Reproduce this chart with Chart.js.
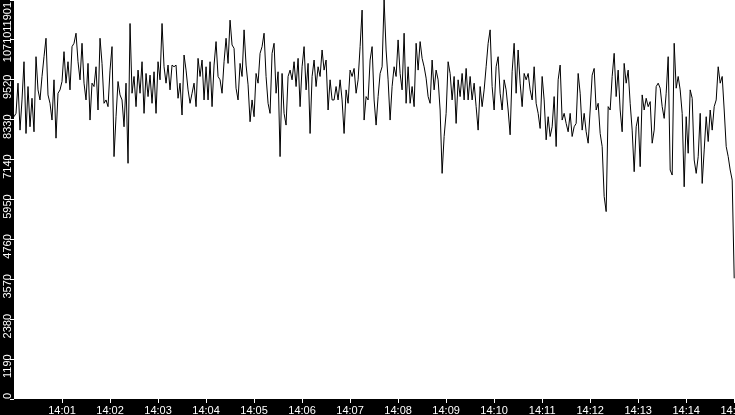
<!DOCTYPE html>
<html lang="en">
<head>
    <meta charset="UTF-8">
    <title>Trace 14:00 - 14:15</title>
    <script src="https://cdn.jsdelivr.net/npm/chart.js"></script>
    <style>
        html, body {
            margin: 0;
            padding: 0;
            background: #000;
        }
        #trace {
            display: block;
        }
    </style>
</head>
<body>
    <canvas id="trace" width="735" height="415"></canvas>

    <script>
        // one sample every 2.5 s starting at 14:00:00
        const startLabel = '14:00:00';
        const stepSeconds = 2.5;

        // 14:00:00 - 14:01:40
        const seg0 = [8420, 8520, 9420, 8020, 8920, 10060, 7920, 9320, 8120, 8970,
            7970, 10210, 9220, 8920, 9620, 10210, 10760, 9070, 8820, 8320,
            9520, 7780, 9120, 9220, 9470, 10360, 9420, 10060, 9220, 10510,
            10610, 10910, 10060, 9520, 10610, 9420, 8920, 10010, 8320, 9420];
        // 14:01:40 - 14:03:20
        const seg1 = [9320, 9910, 8620, 10760, 10010, 8820, 8920, 8720, 9810, 10510,
            7230, 8420, 9470, 9070, 8920, 8120, 9420, 7030, 11200, 9120,
            9620, 8720, 9810, 9120, 10060, 8520, 9710, 9020, 9660, 8820,
            9760, 8520, 10060, 9520, 11200, 9910, 9420, 9960, 9220, 9960];
        // 14:03:20 - 14:05:00
        const seg2 = [9910, 9960, 8970, 9420, 8470, 10260, 9810, 9220, 8820, 9120,
            9420, 8720, 10160, 9620, 10110, 8920, 9910, 8920, 10060, 8720,
            9960, 10660, 9620, 9520, 9120, 10060, 10760, 10010, 11300, 10560,
            10460, 9270, 8920, 10010, 9620, 11010, 9960, 9370, 8270, 8920];
        // 14:05:00 - 14:06:40
        const seg3 = [8420, 9710, 9420, 10310, 10510, 10910, 9620, 8820, 8520, 10310,
            10610, 9120, 9760, 7230, 9710, 8520, 8170, 9620, 9810, 9520,
            10060, 9320, 10160, 8720, 9910, 10510, 9220, 10010, 7920, 9620,
            10110, 9320, 9910, 9620, 10410, 9810, 10110, 8620, 9520, 8920];
        // 14:06:40 - 14:08:20
        const seg4 = [8920, 9320, 8920, 9520, 8920, 7920, 9220, 8820, 9810, 9620,
            9860, 9120, 9520, 10510, 11600, 8320, 9020, 8920, 10110, 10510,
            8920, 8170, 9020, 9710, 9910, 11901, 10410, 9520, 8320, 9320,
            9910, 9620, 10710, 9710, 9220, 10910, 8820, 9910, 8820, 9320];
        // 14:08:20 - 14:10:00
        const seg5 = [8720, 10610, 9810, 10660, 10160, 9910, 9570, 9020, 8820, 10110,
            9220, 9810, 9520, 8620, 6730, 7830, 8520, 10060, 9710, 8920,
            9620, 8220, 9520, 9020, 9710, 8920, 9860, 8920, 9620, 8920,
            9420, 8720, 8020, 9320, 8720, 9220, 9910, 10610, 11010, 9320];
        // 14:10:00 - 14:11:40
        const seg6 = [8620, 9910, 10210, 9120, 8620, 9520, 9220, 8620, 7880, 9760,
            10610, 9120, 10410, 9420, 8720, 9710, 9520, 9710, 9220, 8920,
            9910, 8820, 8520, 8070, 9620, 8920, 7730, 8420, 7830, 8120,
            9020, 7530, 9520, 9960, 8320, 8520, 8220, 7970, 8520, 7830];
        // 14:11:40 - 14:13:20
        const seg7 = [8120, 8220, 9710, 9120, 8020, 8520, 7970, 7630, 8620, 9660,
            9860, 8620, 8820, 7920, 7530, 6040, 5590, 8720, 8620, 9620,
            10310, 9020, 9810, 8620, 7970, 10010, 9420, 9810, 8820, 8020,
            6780, 8120, 8420, 6930, 9070, 8620, 8970, 8720, 8870, 7630];
        // 14:13:20 - 14:15:00
        const seg8 = [8020, 9320, 9420, 9270, 8720, 8370, 9120, 10210, 6830, 6680,
            10610, 9270, 9620, 9220, 8520, 6330, 8420, 7330, 9220, 8970,
            7130, 6730, 7230, 8520, 6430, 7430, 8420, 7680, 8620, 8020,
            8720, 8920, 9910, 9420, 9620, 8620, 7530, 7230, 6830, 6530,
            3600];

        const values = [].concat(seg0, seg1, seg2, seg3, seg4, seg5, seg6, seg7, seg8);

        const xTickSeconds = [60, 120, 180, 240, 300, 360, 420, 480, 540, 600, 660, 720, 780, 840, 900];
        const xTickLabels = ['14:01', '14:02', '14:03', '14:04', '14:05', '14:06', '14:07', '14:08',
            '14:09', '14:10', '14:11', '14:12', '14:13', '14:14', '14:15'];
        const yTickValues = [0, 1190, 2380, 3570, 4760, 5950, 7140, 8330, 9520, 10710, 11901];

        const points = values.map((v, i) => ({ x: i * stepSeconds, y: v }));

        const tickFont = { family: 'Liberation Sans', size: 11, lineHeight: 1 };

        // black frame round a white plot area
        const panel = {
            id: 'panel',
            beforeDraw(chart) {
                const { ctx, chartArea: a, width, height } = chart;
                ctx.save();
                ctx.fillStyle = '#000';
                ctx.fillRect(0, 0, width, height);
                ctx.fillStyle = '#fff';
                ctx.fillRect(a.left, a.top, a.right - a.left, a.bottom - a.top);
                ctx.restore();
            }
        };

        // the upright y labels sit a little below their tick, kept inside the plot height
        const yLabelNudge = {
            id: 'yLabelNudge',
            beforeDraw(chart) {
                const scale = chart.scales.y;
                const items = scale.getLabelItems(chart.chartArea);
                if (items._nudged) return;
                const ctx = chart.ctx;
                ctx.save();
                ctx.font = '11px "Liberation Sans"';
                items.forEach(it => {
                    const half = ctx.measureText(String(it.label)).width / 2;
                    let c = it.options.translation[1] + 7;
                    c = Math.max(c, scale.top + 2 + half);
                    c = Math.min(c, scale.bottom - half);
                    it.options.translation[1] = c;
                });
                ctx.restore();
                items._nudged = true;
            }
        };

        new Chart(document.getElementById('trace'), {
            type: 'line',
            data: {
                datasets: [{
                    label: 'trace',
                    data: points,
                    borderColor: '#000',
                    borderWidth: 1,
                    pointRadius: 0,
                    tension: 0,
                    fill: false
                }]
            },
            options: {
                responsive: false,
                animation: false,
                devicePixelRatio: 1,
                layout: { padding: 0 },
                plugins: {
                    legend: { display: false },
                    tooltip: { enabled: false }
                },
                scales: {
                    x: {
                        type: 'linear',
                        min: 0,
                        max: 901,
                        afterBuildTicks: s => { s.ticks = xTickSeconds.map(v => ({ value: v })); },
                        afterFit: s => { s.paddingLeft = 0; s.paddingRight = 0; s.height = 16; },
                        ticks: {
                            color: '#fff',
                            font: tickFont,
                            padding: 2,
                            autoSkip: false,
                            minRotation: 0,
                            maxRotation: 0,
                            callback: v => xTickLabels[xTickSeconds.indexOf(v)]
                        },
                        grid: { drawOnChartArea: false, color: '#fff', tickLength: 4 },
                        border: { display: false }
                    },
                    y: {
                        min: 0,
                        max: 11901,
                        afterBuildTicks: s => { s.ticks = yTickValues.map(v => ({ value: v })); },
                        afterFit: s => { s.paddingTop = 0; s.paddingBottom = 0; s.width = 14; },
                        ticks: {
                            color: '#fff',
                            font: tickFont,
                            padding: -13,
                            crossAlign: 'center',
                            autoSkip: false,
                            minRotation: 90,
                            maxRotation: 90,
                            callback: v => String(v)
                        },
                        grid: { drawOnChartArea: false, color: '#fff', tickLength: 4 },
                        border: { display: false }
                    }
                }
            },
            plugins: [panel, yLabelNudge]
        });
    </script>
</body>
</html>
